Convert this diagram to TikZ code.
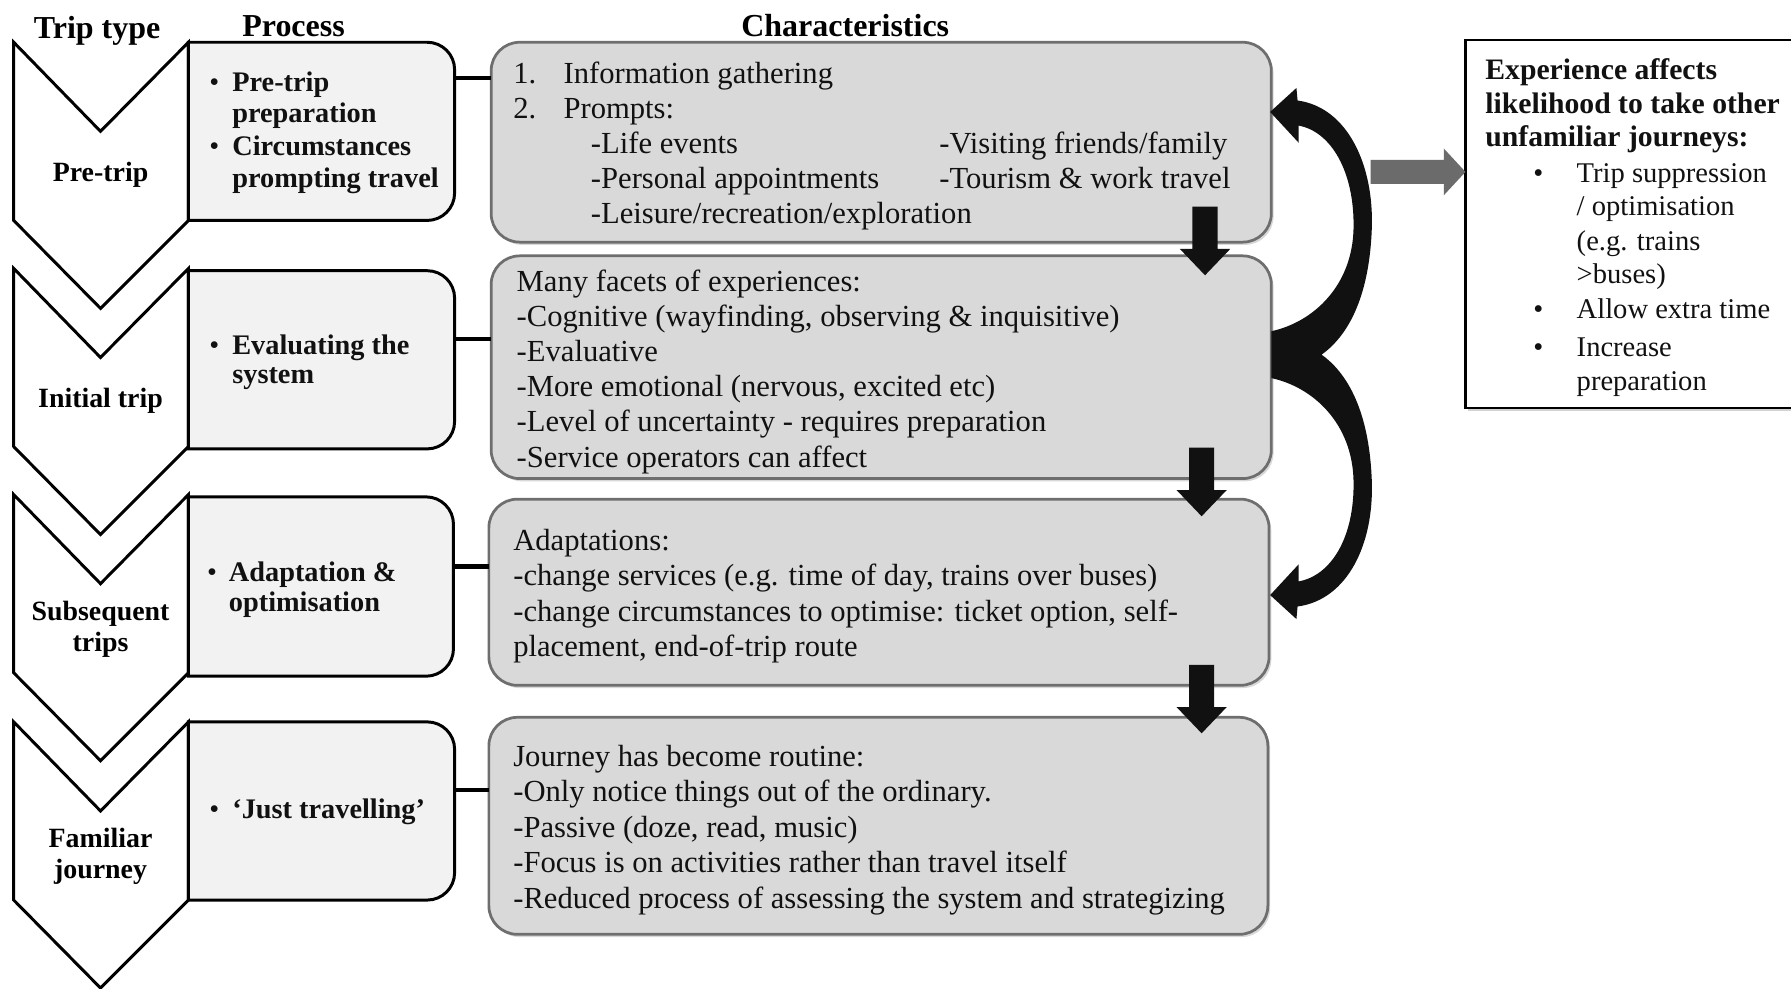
\documentclass[tikz,border=0pt]{standalone}
\usepackage{fontspec}
\setmainfont{Liberation Serif}
\usetikzlibrary{shadows,fit,calc}
\definecolor{charfill}{HTML}{D9D9D9}
\definecolor{charline}{HTML}{6E6E6E}
\definecolor{procfill}{HTML}{F2F2F2}
\definecolor{greyarrow}{HTML}{6B6B6B}
\definecolor{ink}{HTML}{111111}

% process box: square on the left, rounded on the right
\newcommand\procshape[1]{%
  \filldraw[procbox] (#1.north west) -- ([xshift=-12pt]#1.north east)
    arc[start angle=-90, end angle=0, radius=24]
    -- ([yshift=12pt]#1.south east)
    arc[start angle=0, end angle=90, radius=24]
    -- (#1.south west) -- cycle;}

\tikzset{
  pics/chev/.style={code={%
    \filldraw[chevron] (12,0) -- (88,78) -- (165,0) -- (165,156) -- (88,233) -- (12,156) -- cycle;}},
  pics/downblk/.style={code={%
    \fill[ink] (-11,0) -- (11,0) -- (11,37) -- (22,37) -- (0,60) -- (-22,37) -- (-11,37) -- cycle;}},
}

\begin{document}
\begin{tikzpicture}[x=0.5pt,y=-0.5pt,
  head/.style={font=\fontsize{14}{16}\selectfont\bfseries, inner sep=0, anchor=base},
  chevlabel/.style={font=\fontsize{12.2}{13.5}\selectfont\bfseries, align=center, inner sep=0},
  proctext/.style={font=\fontsize{12.4}{14}\selectfont\bfseries, anchor=base west, inner sep=0, text=ink},
  bul/.style={font=\fontsize{12.4}{14}\selectfont, anchor=base west, inner sep=0, text=ink},
  ctext/.style={font=\fontsize{13.4}{16}\selectfont, anchor=base west, inner sep=0, text=ink},
  rbhead/.style={font=\fontsize{13}{15}\selectfont\bfseries, anchor=base west, inner sep=0, text=ink},
  rbtext/.style={font=\fontsize{12.5}{15}\selectfont, anchor=base west, inner sep=0, text=ink},
  area/.style={inner sep=0, outer sep=0},
  chevron/.style={draw=black, fill=white, line width=1.3pt, line join=miter},
  procbox/.style={draw=black, fill=procfill, line width=1.3pt},
  charbox/.style={draw=charline, fill=charfill, line width=1.2pt, rounded corners=12.5pt,
    inner sep=0, outer sep=0,
    drop shadow={shadow xshift=1pt, shadow yshift=-1.2pt, opacity=0.3}},
  rbox/.style={draw=black, fill=white, line width=0.9pt, inner sep=0, outer sep=0,
    drop shadow={shadow xshift=1.2pt, shadow yshift=-1.2pt, opacity=0.35}},
  link/.style={line width=1.8pt, black},
]
\useasboundingbox (0,0) rectangle (1568,865);
\fill[white] (0,0) rectangle (1568,865);

% column headings
\node[head] (h1) at (85,34) {Trip type};
\node[head] (h2) at (257,32) {Process};
\node[head] (h3) at (740,32) {Characteristics};

% trip-type chevrons
\pic (ch1) at (0,37) {chev};
\pic (ch2) at (0,235) {chev};
\pic (ch3) at (0,433) {chev};
\pic (ch4) at (0,632) {chev};
\node[chevlabel] (t1) at (88,153) {Pre-trip};
\node[chevlabel] (t2) at (88,351) {Initial trip};
\node[chevlabel] (t3) at (88,551) {Subsequent\\trips};
\node[chevlabel] (t4) at (88,750) {Familiar\\journey};

% process boxes
\node[area, fit={(165,37) (398,193)}] (p1) {};
\node[area, fit={(165,237) (398,393)}] (p2) {};
\node[area, fit={(165,435) (397,592)}] (p3) {};
\node[area, fit={(165,632) (398,788)}] (p4) {};
\procshape{p1}
\procshape{p2}
\procshape{p3}
\procshape{p4}

\node[bul] (p1b1) at (183,80) {\textbullet};
\node[proctext] (p1a) at (203,80) {Pre-trip};
\node[proctext] (p1b) at (203,107) {preparation};
\node[bul] (p1b2) at (183,136) {\textbullet};
\node[proctext] (p1c) at (203,136) {Circumstances};
\node[proctext] (p1d) at (203,164) {prompting travel};

\node[bul] (p2b1) at (183,310) {\textbullet};
\node[proctext] (p2a) at (203,310) {Evaluating the};
\node[proctext] (p2b) at (203,336) {system};

\node[bul] (p3b1) at (181,509) {\textbullet};
\node[proctext] (p3a) at (200,509) {Adaptation \&};
\node[proctext] (p3b) at (200,535) {optimisation};

\node[bul] (p4b1) at (183,717) {\textbullet};
\node[proctext] (p4a) at (203,717) {‘Just travelling’};

% characteristics boxes
\node[charbox, fit={(430,37) (1113,212)}] (c1) {};
\node[charbox, fit={(430,224) (1113,419)}] (c2) {};
\node[charbox, fit={(428,437) (1111,600)}] (c3) {};
\node[charbox, fit={(428,628) (1110,818)}] (c4) {};

% links from process to characteristics
\coordinate (k1) at (0,68);
\coordinate (k2) at (0,297);
\coordinate (k3) at (0,496);
\coordinate (k4) at (0,692);
\draw[link] (p1.east |- k1) -- (c1.west |- k1);
\draw[link] (p2.east |- k2) -- (c2.west |- k2);
\draw[link] (p3.east |- k3) -- (c3.west |- k3);
\draw[link] (p4.east |- k4) -- (c4.west |- k4);

% box 1 text
\node[ctext] (c1n1) at (449,73) {1.};
\node[ctext] (c1a) at (493,73) {Information gathering};
\node[ctext] (c1n2) at (449,104) {2.};
\node[ctext] (c1b) at (493,104) {Prompts:};
\node[ctext] (c1c) at (517,134) {-Life events};
\node[ctext] (c1d) at (822,134) {-Visiting friends/family};
\node[ctext] (c1e) at (517,165) {-Personal appointments};
\node[ctext] (c1f) at (822,165) {-Tourism \& work travel};
\node[ctext] (c1g) at (517,196) {-Leisure/recreation/exploration};

% box 2 text
\foreach \t [count=\i from 0] in {{Many facets of experiences:},
    {-Cognitive (wayfinding, observing \& inquisitive)},
    {-Evaluative},
    {-More emotional (nervous, excited etc)},
    {-Level of uncertainty - requires preparation},
    {-Service operators can affect}}
  \node[ctext] (c2t\i) at (452,{255+30.8*\i}) {\t};

% box 3 text
\foreach \t [count=\i from 0] in {{Adaptations:},
    {-change services (e.g. time of day, trains over buses)},
    {-change circumstances to optimise: ticket option, self-},
    {placement,  end-of-trip route}}
  \node[ctext] (c3t\i) at (449,{482+31*\i}) {\t};

% box 4 text
\foreach \t [count=\i from 0] in {{Journey has become routine:},
    {-Only notice things out of the ordinary.},
    {-Passive (doze, read, music)},
    {-Focus is on activities rather than travel itself},
    {-Reduced process of assessing the system and strategizing}}
  \node[ctext] (c4t\i) at (449,{671+31*\i}) {\t};

% downward block arrows between the characteristics boxes
\pic (d1) at (1055,181) {downblk};
\pic (d2) at (1052,392) {downblk};
\pic (d3) at (1052,582) {downblk};

% feedback arrows from the initial-trip box
\fill[ink] (1112,98) -- (1135,77) -- (1136,88)
  .. controls (1180,94) and (1203,145) .. (1201,200)
  .. controls (1199,255) and (1183,292) .. (1157,310.5)
  .. controls (1183,329) and (1199,366) .. (1201,421)
  .. controls (1203,476) and (1180,525) .. (1136,531)
  -- (1135,542) -- (1112,521) -- (1137,494) -- (1137,509)
  .. controls (1165,504) and (1186,471) .. (1185,421)
  .. controls (1184,371) and (1150,339) .. (1113,331)
  -- (1113,290)
  .. controls (1150,282) and (1184,250) .. (1185,200)
  .. controls (1186,150) and (1165,115) .. (1137,110)
  -- (1137,125) -- cycle;

% outcome box
\node[rbox, fit={(1283,35) (1620,357)}] (rb) {};
\fill[greyarrow] (1200,140) -- (1264,140) -- (1264,130) -- (rb.west |- 0,150.5)
  -- (1264,171) -- (1264,161) -- (1200,161) -- cycle;

\node[rbhead] (r1) at (1300,70) {Experience affects};
\node[rbhead] (r2) at (1300,99) {likelihood to take other};
\node[rbhead] (r3) at (1300,128) {unfamiliar journeys:};
\node[rbtext] (rb1) at (1342,160) {\textbullet};
\node[rbtext] (r4) at (1380,160) {Trip suppression};
\node[rbtext] (r5) at (1380,189) {/ optimisation};
\node[rbtext] (r6) at (1380,219) {(e.g. trains};
\node[rbtext] (r7) at (1380,248) {>buses)};
\node[rbtext] (rb2) at (1342,279) {\textbullet};
\node[rbtext] (r8) at (1380,279) {Allow extra time};
\node[rbtext] (rb3) at (1342,312) {\textbullet};
\node[rbtext] (r9) at (1380,312) {Increase};
\node[rbtext] (r10) at (1380,342) {preparation};
\end{tikzpicture}
\end{document}
